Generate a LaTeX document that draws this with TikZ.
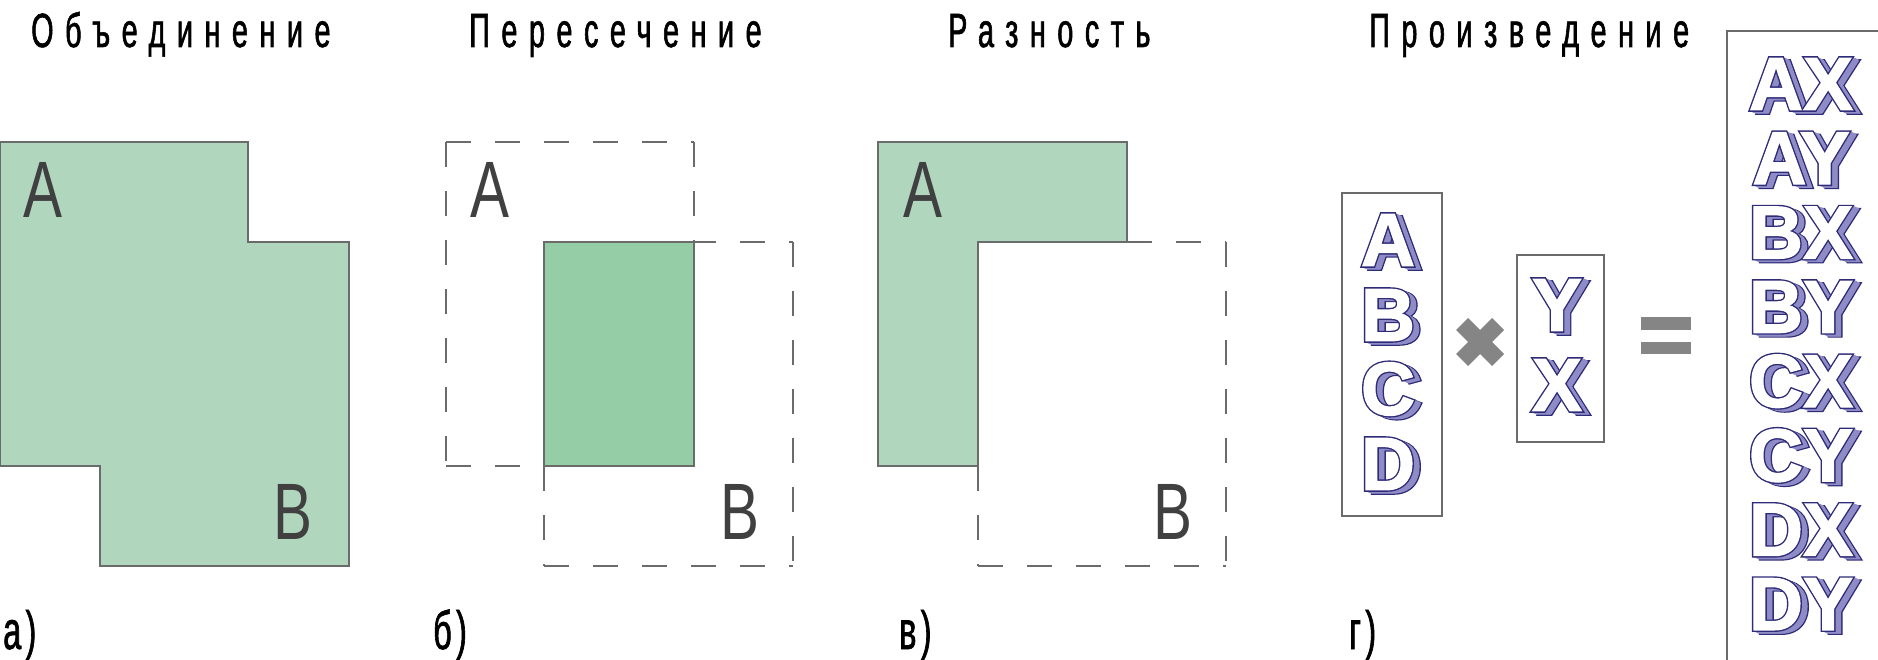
\documentclass[tikz,border=0pt]{standalone}
\usepackage{fontspec}
\setmainfont{Liberation Sans}
\newfontfamily\titlefont[FakeStretch=0.6,LetterSpace=24,FakeBold=1.2]{Liberation Sans}
\newfontfamily\labfont[FakeStretch=0.6,LetterSpace=8,FakeBold=1.2]{Liberation Sans}
\newfontfamily\regfont[FakeStretch=0.73]{Liberation Sans}
\newfontfamily\tdfont{Liberation Sans}
\definecolor{unionfill}{HTML}{B0D6BE}
\definecolor{interfill}{HTML}{95CDA7}
\definecolor{edgegray}{HTML}{6B6B6B}
\definecolor{labelgray}{HTML}{404040}
\definecolor{symgray}{HTML}{858585}
\definecolor{lav}{HTML}{8E8BC6}
\newcommand\navyrgb{0.18 0.17 0.47}
\newcommand\lavrgb{0.557 0.545 0.776}
% heavy outlined glyphs: #1 outline colour, #2 face colour, #3 text
\newcommand\heavy[3]{\rlap{\special{pdf:literal direct 2 Tr 4 w #1 RG #1 rg}#3}\special{pdf:literal direct 2 Tr 1.2 w #2 RG #2 rg}#3\special{pdf:literal direct 0 Tr}}
\newcommand\lavtxt[1]{\special{pdf:literal direct 2 Tr 2.5 w \lavrgb\space RG \lavrgb\space rg}#1\special{pdf:literal direct 0 Tr}}
\newcommand\tdtext[3]{%
  \foreach \t in {7,6,5,4,3,2,1}{%
    \node[tdback,shift={(\t,0.43*\t)}] at #2 {\ifnum\t=7 \heavy{\navyrgb}{\lavrgb}{#3}\else \lavtxt{#3}\fi};}
  \node[tdfront] (#1) at #2 {\heavy{\navyrgb}{1 1 1}{#3}};}
\begin{document}
\begin{tikzpicture}[x=1pt,y=-1pt,
  edge/.style={draw=edgegray,line width=1.5pt},
  dashedge/.style={draw=edgegray,line width=1.5pt,dash pattern=on 25pt off 24pt},
  boxedge/.style={draw=edgegray,line width=1.5pt},
  title/.style={font={\titlefont\fontsize{48}{52}\selectfont},inner sep=0,anchor=base west},
  sublabel/.style={font={\labfont\fontsize{54}{58}\selectfont},inner sep=0,anchor=base west},
  setname/.style={font={\regfont\fontsize{80}{84}\selectfont},text=labelgray,inner sep=0,anchor=center},
  tdback/.style={font={\tdfont\bfseries\fontsize{75}{80}\selectfont},text=lav,inner sep=0,anchor=center},
  tdfront/.style={font={\tdfont\bfseries\fontsize{75}{80}\selectfont},text=white,inner sep=0,anchor=center},
  symbol/.style={draw=symgray,line width=17pt},
  bar/.style={fill=symgray}]
\useasboundingbox (0,0) rectangle (1878,660);
\clip (0,0) rectangle (1878,660);

% titles
\node[title] (t1) at (31,47) {Объединение};
\node[title] (t2) at (469,47) {Пересечение};
\node[title] (t3) at (948,47) {Разность};
\node[title] (t4) at (1369,47) {Произведение};

% sub labels
\node[sublabel] (la) at (3,649) {а)};
\node[sublabel] (lb) at (433,649) {б)};
\node[sublabel] (lc) at (899,649) {в)};
\node[sublabel] (ld) at (1349,649) {г)};

% union
\draw[edge,fill=unionfill] (0,142) -- (248,142) -- (248,242) -- (349,242) -- (349,566) -- (100,566) -- (100,466) -- (0,466) -- cycle;
\node[setname] (ua) at (42.5,189.5) {A};
\node[setname] (ub) at (292.5,511.5) {B};

% intersection
\draw[dashedge] (446,142) -- (694,142);
\draw[dashedge] (694,142) -- (694,466);
\draw[dashedge] (446,142) -- (446,466);
\draw[dashedge] (446,466) -- (694,466);
\draw[dashedge] (544,242) -- (793,242);
\draw[dashedge] (793,242) -- (793,566);
\draw[dashedge] (544,566) -- (793,566);
\draw[dashedge] (544,466) -- (544,566);
\draw[edge,fill=interfill] (544,242) rectangle (694,466);
\node[setname] (ia) at (489.5,189.5) {A};
\node[setname] (ib) at (739.5,511.5) {B};

% difference
\draw[edge,fill=unionfill] (878,142) -- (1127,142) -- (1127,242) -- (978,242) -- (978,466) -- (878,466) -- cycle;
\draw[dashedge] (1127,242) -- (1226,242);
\draw[dashedge] (1226,242) -- (1226,566);
\draw[dashedge] (978,566) -- (1226,566);
\draw[dashedge] (978,466) -- (978,566);
\node[setname] (da) at (922.5,189.5) {A};
\node[setname] (db) at (1172.5,511.5) {B};

% product
\draw[boxedge] (1342,193) rectangle (1442,516);
\draw[boxedge] (1517,255) rectangle (1604,442);
\draw[boxedge] (1727,31) rectangle (1940,720);
\tdtext{pa}{(1388,240)}{A}
\tdtext{pb}{(1388,315)}{B}
\tdtext{pc}{(1388,389)}{C}
\tdtext{pd}{(1388,464)}{D}
\tdtext{py}{(1557,305)}{Y}
\tdtext{px}{(1557,385)}{X}
\draw[symbol] (1462,324) -- (1498,360);
\draw[symbol] (1498,324) -- (1462,360);
\fill[bar] (1641,317) rectangle (1691,330);
\fill[bar] (1641,342) rectangle (1691,354);
\tdtext{r1}{(1801,84)}{AX}
\tdtext{r2}{(1801,158.3)}{AY}
\tdtext{r3}{(1801,232.6)}{BX}
\tdtext{r4}{(1801,306.9)}{BY}
\tdtext{r5}{(1801,381.2)}{CX}
\tdtext{r6}{(1801,455.5)}{CY}
\tdtext{r7}{(1801,529.8)}{DX}
\tdtext{r8}{(1801,604.1)}{DY}
\end{tikzpicture}
\end{document}
